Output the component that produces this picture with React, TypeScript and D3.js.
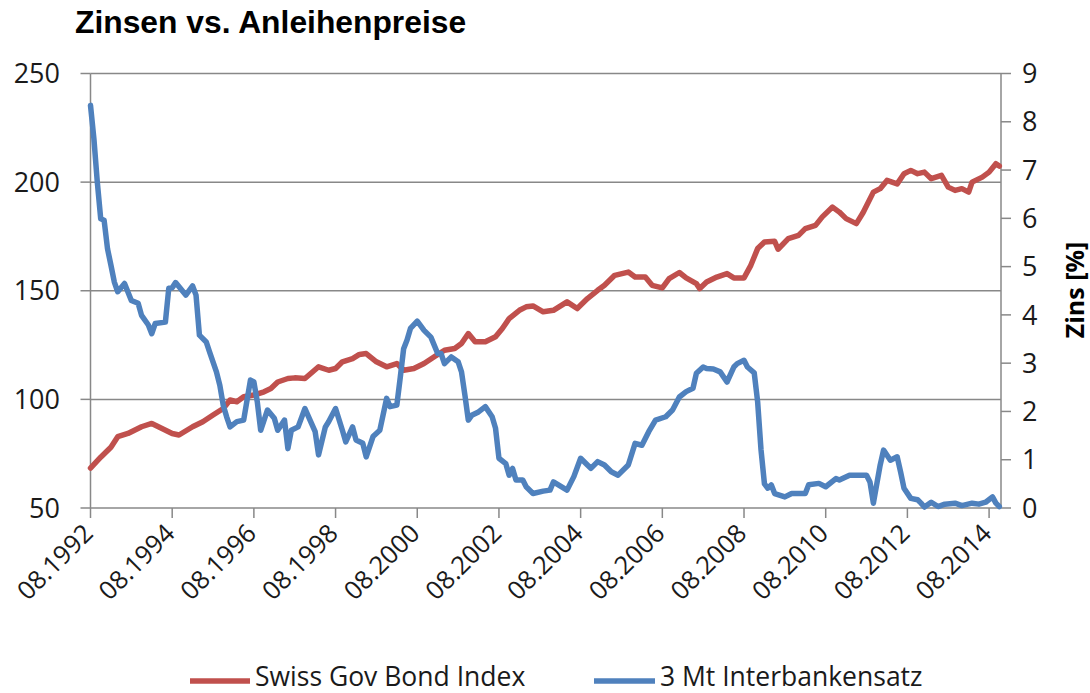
import React from "react";
import * as d3 from "d3";

// Months since 08.1992
const bondMonths = [0,3,6,8,11,15,18,21,24,26,30,33,36,39,41,43,45,48,51,53,55,58,60,63,67,70,72,74,77,79,81,84,87,90,92,95,98,101,104,107,109,111,113,116,119,121,123,126,128,130,133,136,140,143,146,149,151,154,158,160,163,165,168,170,173,175,178,179,181,184,187,189,192,194,196,198,201,202,205,208,210,213,215,218,220,222,225,227,230,232,234,237,239,241,243,245,247,250,252,254,256,258,259,262,264,266,267];
const bondValues = [68.4,73.4,78,82.8,84.3,87.4,88.9,86.6,84.3,83.6,87.4,89.7,92.8,95.8,99.7,98.9,101.2,102,103.5,105,108,109.6,109.9,109.6,115,113.4,114.2,117.3,118.8,120.7,121.1,117.3,115,116.5,113.4,114.2,116.5,119.6,122.6,123.4,125.7,130.3,126.5,126.5,128.8,132.6,137.2,141,142.6,143,140.3,141,144.9,141.8,146.4,150.2,152.5,157.1,158.6,156.3,156.3,152.5,151.3,155.6,158.4,155.9,153.3,151,154,156.3,157.9,155.9,155.9,161.7,169.4,172.4,172.8,169.1,174,175.5,178.6,180.1,184,188.5,186.2,183.2,180.9,186,195.4,197,200.8,199.2,203.9,205.4,203.9,204.6,201.6,203.1,197.7,196.2,197,195.4,200,202.3,204.6,208.5,207.4];

const rateMonths = [0,1,2,3,4,5,6,7,8,10,12,14,15,17,18,19,22,23,24,25,28,30,31,32,34,35,37,38,39,40,41,43,45,47,48,49,50,52,54,55,57,58,59,61,63,66,67,69,70,72,74,75,77,78,80,81,83,85,87,88,90,91,92,93,94,96,98,100,102,103,104,106,108,109,110,111,112,114,116,118,119,120,122,123,124,125,127,128,130,133,135,136,140,142,144,146,147,149,151,153,155,158,160,162,164,166,169,171,173,175,177,178,180,181,183,185,187,189,190,192,193,195,196,197,198,199,200,201,204,206,210,211,214,216,219,220,223,226,228,229,230,232,233,235,237,238,239,241,243,244,245,247,249,251,254,256,259,261,263,265,266,267];
const rateValues = [8.34,7.65,6.75,5.99,5.96,5.37,5.03,4.68,4.48,4.65,4.3,4.24,3.99,3.79,3.61,3.82,3.85,4.55,4.56,4.67,4.41,4.6,4.41,3.58,3.44,3.23,2.82,2.54,2.13,1.89,1.68,1.79,1.82,2.65,2.61,2.2,1.61,2.03,1.86,1.61,1.82,1.23,1.61,1.68,2.06,1.58,1.1,1.68,1.79,2.06,1.61,1.37,1.68,1.41,1.34,1.06,1.48,1.61,2.27,2.1,2.13,2.7,3.3,3.48,3.72,3.87,3.68,3.54,3.2,3.2,2.99,3.13,3.03,2.82,2.34,1.82,1.92,1.99,2.1,1.89,1.65,1.03,0.92,0.68,0.82,0.58,0.58,0.44,0.3,0.35,0.37,0.54,0.37,0.65,1.03,0.89,0.82,0.96,0.89,0.75,0.68,0.89,1.34,1.3,1.58,1.82,1.89,2.03,2.3,2.41,2.48,2.79,2.92,2.89,2.88,2.82,2.61,2.92,2.99,3.06,2.92,2.8,2.2,1.2,0.5,0.41,0.48,0.3,0.23,0.3,0.3,0.48,0.51,0.44,0.61,0.58,0.68,0.68,0.68,0.54,0.1,0.89,1.2,0.99,1.06,0.75,0.41,0.2,0.17,0.1,0.02,0.12,0.03,0.08,0.1,0.05,0.1,0.08,0.12,0.23,0.1,0.03];

const xTickMonths = [0,24,48,72,96,120,144,168,192,216,240,264];
const xTickLabels = ["08.1992","08.1994","08.1996","08.1998","08.2000","08.2002","08.2004","08.2006","08.2008","08.2010","08.2012","08.2014"];
const leftTicks = [50,100,150,200,250];
const rightTicks = [0,1,2,3,4,5,6,7,8,9];

const title = "Zinsen vs. Anleihenpreise";
const rightAxisTitle = "Zins [%]";
const seriesNames = ["Swiss Gov Bond Index", "3 Mt Interbankensatz"];
const colors = ["#C0504D", "#4F81BD"];

export default function App() {
  const W = 1090, H = 693;
  const left = 90.5, right = 1001, top = 73.5, bottom = 508;
  const x = d3.scaleLinear().domain([0, 267.5]).range([left, right]);
  const yL = d3.scaleLinear().domain([50, 250]).range([bottom, top]);
  const yR = d3.scaleLinear().domain([0, 9]).range([bottom, top]);

  const bondPts = bondMonths.map((m, i) => [m, bondValues[i]] as [number, number]);
  const ratePts = rateMonths.map((m, i) => [m, rateValues[i]] as [number, number]);
  const lineL = d3.line<[number, number]>().x(d => x(d[0])).y(d => yL(d[1]));
  const lineR = d3.line<[number, number]>().x(d => x(d[0])).y(d => yR(d[1]));

  const axisColor = "#888888";
  const font = "'Open Sans', sans-serif";

  return (
    <svg width={W} height={H} style={{ position: "absolute", left: 0, top: 0, background: "#fff" }}>
      <rect x={0} y={0} width={W} height={H} fill="#fff" />
      <text x={75} y={33} fontFamily="'Liberation Sans', Arial, sans-serif" fontWeight="bold" fontSize={31.8} fill="#000">{title}</text>

      {/* gridlines */}
      {leftTicks.slice(1).map(t => (
        <line key={"g" + t} x1={left} x2={right} y1={yL(t)} y2={yL(t)} stroke={axisColor} strokeWidth={1.5} />
      ))}
      {/* left axis */}
      <line x1={left} x2={left} y1={top} y2={bottom} stroke={axisColor} strokeWidth={1.5} />
      {leftTicks.map(t => (
        <g key={"l" + t}>
          <line x1={left - 10} x2={left} y1={yL(t)} y2={yL(t)} stroke={axisColor} strokeWidth={1.5} />
          <text x={60} y={yL(t)} dy="0.36em" textAnchor="end" fontFamily={font} fontSize={27} fill="#1a1a1a">{t}</text>
        </g>
      ))}
      {/* right axis */}
      <line x1={right} x2={right} y1={top} y2={bottom} stroke={axisColor} strokeWidth={1.5} />
      {rightTicks.map(t => (
        <g key={"r" + t}>
          <line x1={right} x2={right + 10} y1={yR(t)} y2={yR(t)} stroke={axisColor} strokeWidth={1.5} />
          <text x={1022} y={yR(t)} dy="0.36em" textAnchor="start" fontFamily={font} fontSize={27} fill="#1a1a1a">{t}</text>
        </g>
      ))}
      <text transform={`translate(${1084},${290}) rotate(-90)`} textAnchor="middle" fontFamily={font} fontWeight="bold" fontSize={25} fill="#000">{rightAxisTitle}</text>

      {/* bottom axis */}
      <line x1={left} x2={right} y1={bottom} y2={bottom} stroke={axisColor} strokeWidth={1.5} />
      {xTickMonths.map((m, i) => (
        <g key={"x" + m}>
          <line x1={x(m)} x2={x(m)} y1={bottom} y2={bottom + 10} stroke={axisColor} strokeWidth={1.5} />
          <text transform={`translate(${x(m) + 4},${bottom + 27}) rotate(-45)`} textAnchor="end" fontFamily={font} fontSize={25.5} fill="#1a1a1a">{xTickLabels[i]}</text>
        </g>
      ))}

      {/* series */}
      <path d={lineL(bondPts) || ""} fill="none" stroke={colors[0]} strokeWidth={5.5} strokeLinejoin="round" strokeLinecap="round" />
      <path d={lineR(ratePts) || ""} fill="none" stroke={colors[1]} strokeWidth={5.5} strokeLinejoin="round" strokeLinecap="round" />

      {/* legend */}
      <line x1={190} x2={250} y1={681} y2={681} stroke={colors[0]} strokeWidth={5.5} />
      <text x={255} y={686} fontFamily={font} fontSize={26.5} fill="#1a1a1a">{seriesNames[0]}</text>
      <line x1={594} x2={655} y1={681} y2={681} stroke={colors[1]} strokeWidth={5.5} />
      <text x={660} y={686} fontFamily={font} fontSize={26.5} fill="#1a1a1a">{seriesNames[1]}</text>
    </svg>
  );
}
